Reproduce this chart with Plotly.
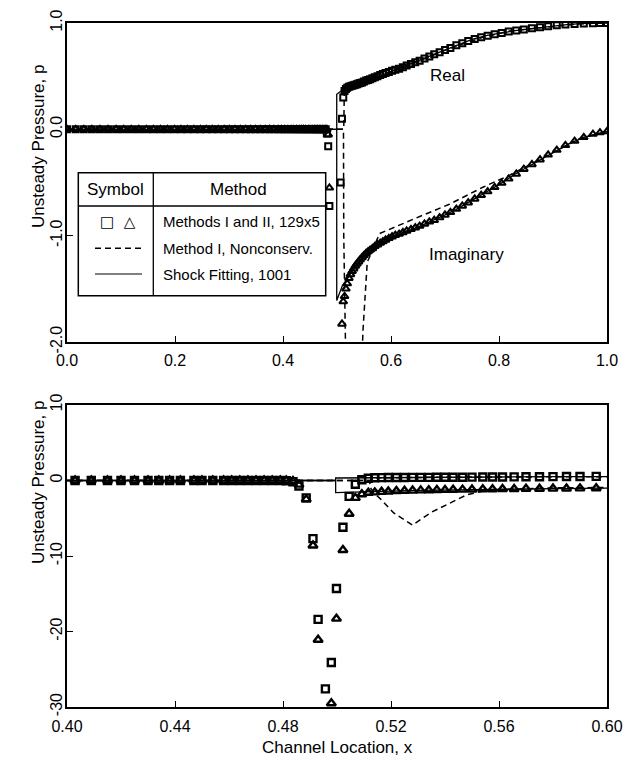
import plotly.graph_objects as go

# ---------------- data ----------------
# 129x5 grid results (squares = real part, triangles = imaginary part)
x_grid = [
    0.000, 0.016, 0.031, 0.046, 0.061, 0.076, 0.091, 0.105, 0.119, 0.133,
    0.147, 0.160, 0.173, 0.186, 0.199, 0.211, 0.223, 0.235, 0.247, 0.258,
    0.269, 0.280, 0.291, 0.301, 0.311, 0.321, 0.331, 0.340, 0.349, 0.358,
    0.367, 0.375, 0.383, 0.391, 0.397, 0.403, 0.409, 0.415, 0.420, 0.425,
    0.430, 0.434, 0.438, 0.442, 0.447, 0.450, 0.454, 0.458, 0.461, 0.464,
    0.467, 0.470, 0.473, 0.476, 0.479,
    0.4812, 0.4837, 0.4859, 0.4886, 0.4911, 0.4930, 0.4957, 0.4979, 0.4998, 0.5022,
    0.5045, 0.5068, 0.5092, 0.5116, 0.5140,
    0.5165, 0.5190, 0.5220, 0.5250, 0.5280, 0.5310, 0.5340, 0.5370, 0.5400, 0.5430,
    0.5465, 0.5500, 0.5540, 0.5576, 0.5613, 0.5656, 0.5700, 0.5750, 0.5800, 0.5850,
    0.5900, 0.5960, 0.602, 0.608, 0.615, 0.622, 0.629, 0.637, 0.645, 0.653,
    0.662, 0.671, 0.680, 0.690, 0.700, 0.710, 0.721, 0.732, 0.743, 0.755,
    0.767, 0.779, 0.792, 0.805, 0.818, 0.832, 0.846, 0.861, 0.876, 0.891,
    0.907, 0.923, 0.940, 0.957, 0.974, 0.987, 1.000,
]
p_real = [0.0] * 55 + [
    -0.04, -0.16, -0.72, -2.3, -7.7, -18.4, -27.6, -24.1, -14.3, -6.2,
    -2.1, -0.5, 0.10, 0.30, 0.36,
    0.38, 0.39, 0.40, 0.405, 0.41, 0.415, 0.42, 0.425, 0.43, 0.435,
    0.44, 0.45, 0.46, 0.465, 0.47, 0.48, 0.49, 0.50, 0.51, 0.52,
    0.53, 0.54, 0.55, 0.56, 0.57, 0.585, 0.60, 0.615, 0.63, 0.645,
    0.665, 0.685, 0.705, 0.725, 0.745, 0.765, 0.79, 0.81, 0.83, 0.85,
    0.865, 0.88, 0.895, 0.905, 0.92, 0.93, 0.94, 0.95, 0.96, 0.97,
    0.978, 0.985, 0.99, 0.995, 0.998, 1.0, 1.0,
]
p_imag = [0.0] * 55 + [
    0.0, -0.05, -0.55, -2.5, -8.6, -21.1, -33.0, -29.5, -18.3, -9.2,
    -4.4, -2.3, -1.83, -1.62, -1.57,
    -1.50, -1.45, -1.40, -1.365, -1.335, -1.31, -1.285, -1.265, -1.245, -1.225,
    -1.205, -1.185, -1.165, -1.15, -1.135, -1.12, -1.10, -1.085, -1.07, -1.055,
    -1.04, -1.025, -1.01, -0.995, -0.985, -0.97, -0.955, -0.94, -0.925, -0.91,
    -0.89, -0.87, -0.855, -0.83, -0.805, -0.78, -0.75, -0.72, -0.69, -0.655,
    -0.62, -0.585, -0.545, -0.505, -0.465, -0.42, -0.375, -0.33, -0.285, -0.24,
    -0.195, -0.15, -0.11, -0.075, -0.045, -0.03, -0.02,
]

# Shock fitting, 1001 (solid)
fit_x = [0.0, 0.4995, 0.4995, 0.505, 0.51, 0.52, 0.53, 0.54, 0.55, 0.56, 0.58, 0.60, 0.62,
         0.65, 0.68, 0.70, 0.72, 0.75, 0.78, 0.80, 0.83, 0.86, 0.90, 0.93, 0.96, 1.0]
fit_real = [0.0, 0.0, 0.33, 0.35, 0.37, 0.395, 0.41, 0.425, 0.445, 0.465, 0.50, 0.545, 0.585,
            0.64, 0.705, 0.745, 0.785, 0.845, 0.885, 0.905, 0.928, 0.948, 0.972, 0.987, 0.996, 1.0]
fit_imag = [0.0, 0.0, -1.61, -1.53, -1.47, -1.40, -1.32, -1.26, -1.20, -1.155, -1.08, -1.02, -0.975,
            -0.92, -0.855, -0.805, -0.755, -0.665, -0.58, -0.52, -0.42, -0.335, -0.215, -0.135, -0.07, -0.02]

# Method I, Nonconservative (dashed)
nc_x = [0.0, 0.512, 0.5125, 0.5135, 0.516, 0.521, 0.528, 0.535, 0.548, 0.556, 0.579,
        0.646, 0.708, 0.77, 0.82, 0.86, 0.90, 0.95, 1.0]
nc_real = [0.0, 0.0, 0.0, 0.35, 0.37, 0.39, 0.41, 0.425, 0.45, 0.46, 0.50,
           0.63, 0.76, 0.865, 0.925, 0.945, 0.972, 0.993, 1.0]
nc_imag = [0.0, 0.0, -1.0, -1.6, -2.4, -4.3, -5.9, -4.2, -1.9, -1.25, -0.98,
           -0.835, -0.705, -0.545, -0.43, -0.325, -0.215, -0.085, -0.02]

top_xticks = [0.0, 0.2, 0.4, 0.6, 0.8, 1.0]
top_yticks = [-2.0, -1.0, 0.0, 1.0]
bot_xticks = [0.40, 0.44, 0.48, 0.52, 0.56, 0.60]
bot_yticks = [-30, -20, -10, 0, 10]

legend_rows = ["Methods I and II, 129x5", "Method I, Nonconserv.", "Shock Fitting, 1001"]

# ---------------- figure ----------------
W, H = 624, 764
FONT = "Arial, Liberation Sans, Helvetica, sans-serif"


def px(x):
    return x / W


def py(y):
    return 1 - y / H


fig = go.Figure()

for xa, ya, msize, mlw in (("x", "y", 6, 2.0), ("x2", "y2", 7, 2.4)):
    fig.add_trace(go.Scatter(x=fit_x, y=fit_real, mode="lines", xaxis=xa, yaxis=ya,
                             line=dict(color="black", width=1.3), showlegend=False))
    fig.add_trace(go.Scatter(x=fit_x, y=fit_imag, mode="lines", xaxis=xa, yaxis=ya,
                             line=dict(color="black", width=1.3), showlegend=False))
    fig.add_trace(go.Scatter(x=nc_x, y=nc_real, mode="lines", xaxis=xa, yaxis=ya,
                             line=dict(color="black", width=1.5, dash="6px,4px"), showlegend=False))
    fig.add_trace(go.Scatter(x=nc_x, y=nc_imag, mode="lines", xaxis=xa, yaxis=ya,
                             line=dict(color="black", width=1.5, dash="6px,4px"), showlegend=False))
    fig.add_trace(go.Scatter(x=x_grid, y=p_real, mode="markers", xaxis=xa, yaxis=ya,
                             marker=dict(symbol="square-open", size=msize, color="black",
                                         line=dict(width=mlw, color="black")),
                             showlegend=False))
    fig.add_trace(go.Scatter(x=x_grid, y=p_imag, mode="markers", xaxis=xa, yaxis=ya,
                             marker=dict(symbol="triangle-up-open", size=msize + 1, color="black",
                                         line=dict(width=mlw, color="black")),
                             showlegend=False))

axis_common = dict(showline=True, linecolor="black", linewidth=1.5, mirror=True,
                   ticks="inside", ticklen=6, tickwidth=1.2, tickcolor="black",
                   showgrid=False, zeroline=False, automargin=False,
                   tickfont=dict(family=FONT, size=16, color="black"))

xdom = [px(67), px(607)]
fig.update_layout(
    width=W, height=H, autosize=False,
    margin=dict(l=0, r=0, t=0, b=0, pad=0),
    paper_bgcolor="white", plot_bgcolor="white",
    font=dict(family=FONT, color="black"),
    xaxis=dict(domain=xdom, range=[0, 1], tickvals=top_xticks,
               ticktext=[f"{v:.1f}" for v in top_xticks], anchor="y",
               ticklabelstandoff=3, **axis_common),
    yaxis=dict(domain=[py(342), py(23)], range=[-2, 1], tickvals=top_yticks,
               ticktext=[f"{v:.1f}" for v in top_yticks], tickangle=-90, anchor="x",
               ticklabelstandoff=-3, **axis_common),
    xaxis2=dict(domain=xdom, range=[0.40, 0.60], tickvals=bot_xticks,
                ticktext=[f"{v:.2f}" for v in bot_xticks], anchor="y2",
                ticklabelstandoff=4, **axis_common),
    yaxis2=dict(domain=[py(707), py(405)], range=[-30, 10], tickvals=bot_yticks,
                ticktext=[str(v) for v in bot_yticks], tickangle=-90, anchor="x2",
                ticklabelstandoff=-3, **axis_common),
)


def label(x, y, text, size=17, xanchor="center", family=FONT, angle=0):
    return dict(x=px(x), y=py(y), xref="paper", yref="paper", text=text,
                xanchor=xanchor, yanchor="middle", textangle=angle, showarrow=False,
                font=dict(family=family, size=size, color="black"))


ann = [
    label(38, 147, "Unsteady Pressure, p", angle=-90),
    label(38, 483, "Unsteady Pressure, p", angle=-90),
    label(337, 747, "Channel Location, x"),
    label(447, 75, "Real"),
    label(466, 255, "Imaginary"),
]

# legend table
L, R, T, B = 78.3, 325.7, 172.7, 295.7
DIV, HDR = 153.3, 206
shapes = [
    dict(type="rect", xref="paper", yref="paper", x0=px(L), x1=px(R), y0=py(B), y1=py(T),
         line=dict(color="black", width=1.5), fillcolor="white", layer="above"),
    dict(type="line", xref="paper", yref="paper", x0=px(DIV), x1=px(DIV), y0=py(B), y1=py(T),
         line=dict(color="black", width=1.3)),
    dict(type="line", xref="paper", yref="paper", x0=px(L), x1=px(R), y0=py(HDR), y1=py(HDR),
         line=dict(color="black", width=1.3)),
    dict(type="line", xref="paper", yref="paper", x0=px(95), x1=px(142), y0=py(248.3), y1=py(248.3),
         line=dict(color="black", width=1.5, dash="6px,4px")),
    dict(type="line", xref="paper", yref="paper", x0=px(95), x1=px(142), y0=py(274), y1=py(274),
         line=dict(color="black", width=1.2)),
]
ann.append(label(115.7, 190, "Symbol"))
ann.append(label(238, 190, "Method"))
ann.append(label(118, 221.7, "\u25a1  \u25b3", size=15, family="DejaVu Sans"))
for txt, yy in zip(legend_rows, [221.7, 248.3, 274]):
    ann.append(label(161, yy, txt, size=15, xanchor="left"))

fig.update_layout(annotations=ann, shapes=shapes)
fig.write_html("out.html", config={"displayModeBar": False},
               post_script="document.body.style.margin='0px';document.body.style.overflow='hidden';")
